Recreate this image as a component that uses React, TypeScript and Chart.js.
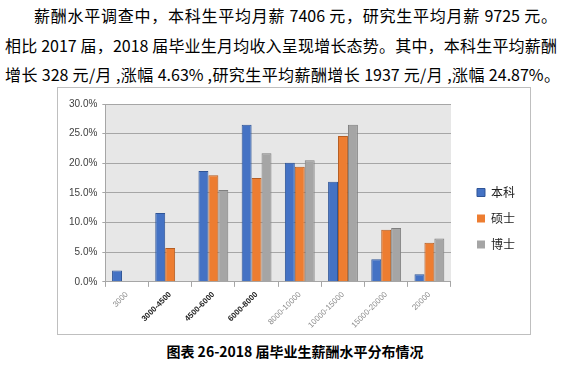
import React, { useEffect, useRef } from "react";
import { Chart, registerables } from "chart.js";

Chart.register(...registerables);

const categories = ["3000", "3000-4500", "4500-6000", "6000-8000", "8000-10000", "10000-15000", "15000-20000", "20000"];
const bachelor = [1.9, 11.6, 18.7, 26.5, 20.1, 16.9, 3.8, 1.3];
const master = [0, 5.7, 18.0, 17.5, 19.4, 24.6, 8.8, 6.6];
const doctor = [0, 0, 15.5, 21.7, 20.5, 26.5, 9.1, 7.3];
const seriesNames = ["本科", "硕士", "博士"];
const yTicks = [0, 5, 10, 15, 20, 25, 30];
const boldLabels = [false, true, true, true, false, false, false, false];

const line1 = "薪酬水平调查中，本科生平均月薪 7406 元，研究生平均月薪 9725 元。";
const line2 = "相比 2017 届，2018 届毕业生月均收入呈现增长态势。其中，本科生平均薪酬";
const line3 = "增长 328 元/月 ,涨幅 4.63% ,研究生平均薪酬增长 1937 元/月 ,涨幅 24.87%。";
const caption = "图表 26-2018 届毕业生薪酬水平分布情况";

const plotBg = {
  id: "plotBg",
  beforeDraw(chart: any) {
    const { ctx, chartArea } = chart;
    ctx.save();
    ctx.fillStyle = "#e7e7e7";
    ctx.fillRect(chartArea.left, chartArea.top, chartArea.right - chartArea.left, chartArea.bottom - chartArea.top);
    ctx.restore();
  },
};

const LEGEND_EXTRA = 14;
const LEGEND_SHIFT = 12;
const legendGap = {
  id: "legendGap",
  beforeLayout(chart: any) {
    const lg = chart.legend;
    if (!lg || lg.__patched) return;
    lg.__patched = true;
    const fit = lg.fit;
    lg.fit = function () {
      fit.call(this);
      this.width += LEGEND_EXTRA;
    };
    const draw = lg.draw;
    lg.draw = function () {
      const ctx = this.ctx;
      ctx.save();
      ctx.translate(LEGEND_SHIFT, 0);
      draw.call(this);
      ctx.restore();
    };
  },
};

export default function App() {
  const ref = useRef<HTMLCanvasElement>(null);
  useEffect(() => {
    document.body.style.margin = "0";
    const colors = ["#4472c4", "#ed7d31", "#a5a5a5"];
    const borders = ["#2f5597", "#b55d22", "#7f7f7f"];
    const data = [bachelor, master, doctor];
    const chart = new Chart(ref.current!, {
      type: "bar",
      data: {
        labels: categories,
        datasets: data.map((d, i) => ({
          label: seriesNames[i],
          data: d,
          backgroundColor: colors[i],
          borderColor: borders[i],
          borderWidth: (c: any) => (c.raw ? 1 : 0),
          categoryPercentage: 0.69,
          barPercentage: 1,
        })),
      },
      options: {
        animation: false,
        responsive: false,
        maintainAspectRatio: false,
        layout: { padding: { top: 16, left: 6, right: 3, bottom: 1 } },
        plugins: {
          tooltip: { enabled: false },
          legend: {
            position: "right",
            labels: {
              boxWidth: 8,
              boxHeight: 8,
              padding: 14,
              color: "#222",
              font: { family: "'Noto Sans CJK SC'", size: 12 },
            },
          },
        },
        scales: {
          x: {
            grid: { offset: true, drawOnChartArea: false, tickLength: 5, color: "#a6a6a6" },
            border: { color: "#a6a6a6" },
            ticks: {
              maxRotation: 45,
              minRotation: 45,
              autoSkip: false,
              color: (c: any) => (boldLabels[c.index] ? "#222" : "#8a8a8a"),
              font: (c: any) => ({
                family: "'Liberation Sans', Arial",
                size: 8,
                weight: boldLabels[c.index] ? "bold" : "normal",
              }),
            },
          },
          y: {
            min: 0,
            max: 30,
            afterBuildTicks: (s: any) => {
              s.ticks = yTicks.map((v) => ({ value: v }));
            },
            grid: { color: "#a6a6a6", tickLength: 3 },
            border: { color: "#a6a6a6" },
            ticks: {
              padding: 5,
              color: "#404040",
              font: { family: "'Liberation Sans', Arial", size: 10 },
              callback: (v: any) => Number(v).toFixed(1) + "%",
            },
          },
        },
      },
      plugins: [plotBg, legendGap],
    });
    return () => chart.destroy();
  }, []);

  const textFont = "'Noto Sans CJK SC', sans-serif";
  const lineStyle = (left: number, top: number, width: number): React.CSSProperties => ({
    position: "absolute",
    left,
    top,
    width,
    whiteSpace: "nowrap",
    textAlign: "justify",
    textAlignLast: "justify",
    fontFamily: textFont,
    fontSize: 16,
    lineHeight: "20px",
    color: "#000",
  });

  return (
    <div style={{ position: "relative", width: 565, height: 365, background: "#fff", overflow: "hidden" }}>
      <div style={lineStyle(34, 5, 523)}>{line1}</div>
      <div style={lineStyle(5, 35, 552)}>{line2}</div>
      <div style={lineStyle(5, 64, 555)}>{line3}</div>
      <div
        style={{
          position: "absolute",
          left: 57,
          top: 87,
          width: 474,
          height: 248,
          border: "1px solid #bfbfbf",
          boxSizing: "border-box",
        }}
      >
        <canvas ref={ref} width={472} height={246} style={{ display: "block" }} />
      </div>
      <div
        style={{
          position: "absolute",
          left: 0,
          top: 342,
          width: 590,
          textAlign: "center",
          fontFamily: textFont,
          fontWeight: "bold",
          fontSize: 14,
          lineHeight: "18px",
          color: "#000",
        }}
      >
        {caption}
      </div>
    </div>
  );
}
